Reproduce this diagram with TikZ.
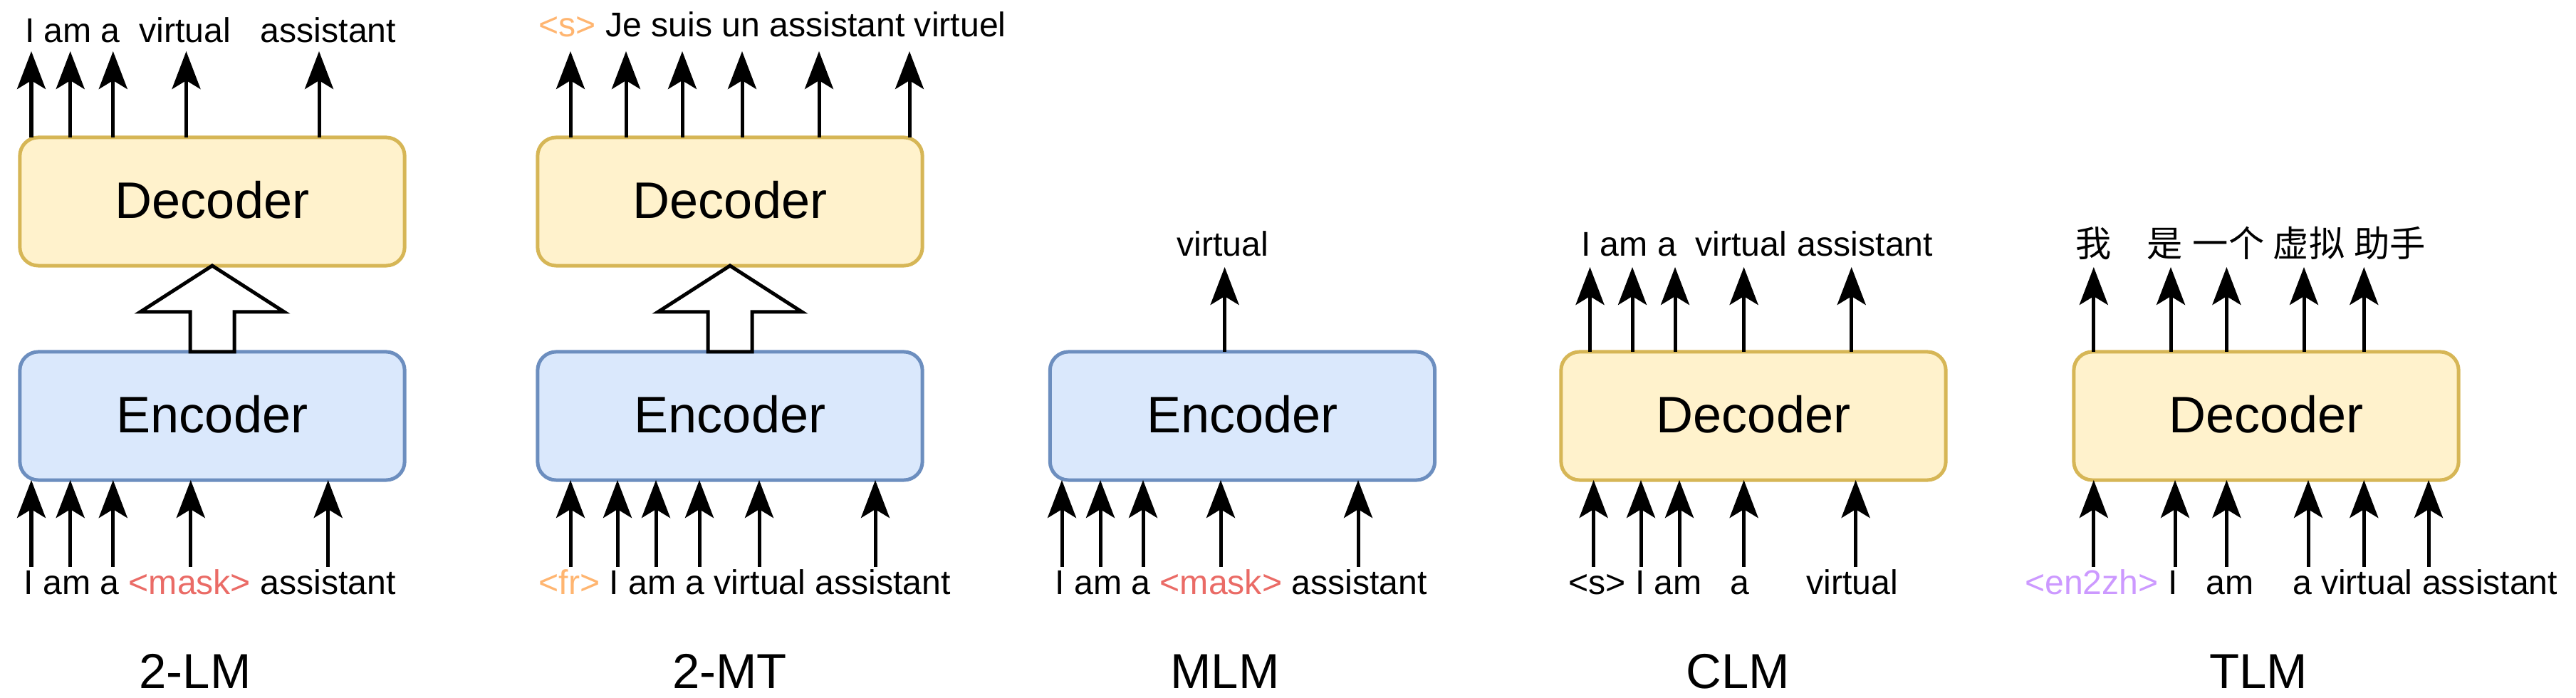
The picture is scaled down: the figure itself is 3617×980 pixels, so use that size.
\documentclass[tikz,border=0pt]{standalone}
\usepackage{fontspec}
\setmainfont{Liberation Sans}
\newfontfamily\cjk{Noto Sans CJK SC}
\usetikzlibrary{arrows.meta,calc}
\definecolor{decfill}{HTML}{FFF2CC}
\definecolor{decline}{HTML}{D6B656}
\definecolor{encfill}{HTML}{DAE8FC}
\definecolor{encline}{HTML}{6C8EBF}
\definecolor{maskred}{HTML}{EA6B66}
\definecolor{tagorange}{HTML}{FFB570}
\definecolor{tagpurple}{HTML}{CC99FF}
\begin{document}
\begin{tikzpicture}[x=0.01cm,y=-0.01cm,
  box/.style={rectangle, rounded corners=0.26cm, line width=0.05cm, minimum width=5.4cm, minimum height=1.8cm, inner sep=0pt, outer sep=0pt, text height=0.46cm, text depth=0cm, font=\fontsize{20.5}{24}\selectfont},
  decbox/.style={box, draw=decline, fill=decfill},
  encbox/.style={box, draw=encline, fill=encfill},
  arr/.style={line width=0.05cm, -{Stealth[length=0.53cm, width=0.40cm, inset=0.12cm]}},
  hollow/.style={line width=0.05cm, draw=black, fill=white, line join=miter},
  tok/.style={font=\fontsize{13.7}{16}\selectfont, inner sep=0pt, outer sep=0pt, anchor=base},
  tokw/.style={tok, anchor=base west},
  cjktok/.style={tok, font=\fontsize{14.3}{17}\cjk},
  lab/.style={font=\fontsize{19.6}{23}\selectfont, inner sep=0pt, anchor=base}]
\useasboundingbox (0,0) rectangle (3617,980);

% ---------------- Panel 1: 2-LM ----------------
\node[decbox] (dec1) at (298,283) {Decoder};
\node[encbox] (enc1) at (298,584) {Encoder};
\draw[hollow] (enc1.north) ++(-31,0) -- ++(0,-56) -- ++(-70,0) -- ($(dec1.south)$) -- ($(enc1.north)+(101,-56)$) -- ++(-70,0) -- ($(enc1.north)+(31,0)$) -- cycle;
\foreach \x [count=\i] in {44,98.7,158.8,261.5,448} {
  \coordinate (p1t\i) at (\x,72);
  \draw[arr] (dec1.north -| p1t\i) -- (p1t\i);
}
\foreach \x [count=\i] in {44,98.7,158.8,267.8,460.7} {
  \coordinate (p1b\i) at (\x,796);
  \draw[arr] (p1b\i) -- (p1b\i |- enc1.south);
}
\node[tok] (w1a) at (42,60) {I};
\node[tok] (w1b) at (95,60) {am};
\node[tok] (w1c) at (155,60) {a};
\node[tok] (w1d) at (259.5,60) {virtual};
\node[tok] (w1e) at (461,60) {assistant};
\node[tokw] (in1) at (33.5,835) {I am a \textcolor{maskred}{<mask>} assistant};
\node[lab] (l1) at (274,967) {2-LM};

% ---------------- Panel 2: 2-MT ----------------
\node[decbox] (dec2) at (1025,283) {Decoder};
\node[encbox] (enc2) at (1025,584) {Encoder};
\draw[hollow] (enc2.north) ++(-31,0) -- ++(0,-56) -- ++(-70,0) -- ($(dec2.south)$) -- ($(enc2.north)+(101,-56)$) -- ++(-70,0) -- ($(enc2.north)+(31,0)$) -- cycle;
\foreach \x [count=\i] in {801,879,958,1042,1150,1277} {
  \coordinate (p2t\i) at (\x,72);
  \draw[arr] (dec2.north -| p2t\i) -- (p2t\i);
}
\foreach \x [count=\i] in {801,867,921,982,1066,1229} {
  \coordinate (p2b\i) at (\x,796);
  \draw[arr] (p2b\i) -- (p2b\i |- enc2.south);
}
\node[tokw] (out2) at (756.5,52) {\textcolor{tagorange}{<s>} Je suis un assistant virtuel};
\node[tokw] (in2) at (756.5,835) {\textcolor{tagorange}{<fr>} I am a virtual assistant};
\node[lab] (l2) at (1024.5,967) {2-MT};

% ---------------- Panel 3: MLM ----------------
\node[encbox] (enc3) at (1744.5,584) {Encoder};
\coordinate (p3t1) at (1719.6,375);
\draw[arr] (enc3.north -| p3t1) -- (p3t1);
\foreach \x [count=\i] in {1491,1545,1605,1714,1907} {
  \coordinate (p3b\i) at (\x,796);
  \draw[arr] (p3b\i) -- (p3b\i |- enc3.south);
}
\node[tok] (w3a) at (1717,360) {virtual};
\node[tokw] (in3) at (1481.5,835) {I am a \textcolor{maskred}{<mask>} assistant};
\node[lab] (l3) at (1720,967) {MLM};

% ---------------- Panel 4: CLM ----------------
\node[decbox] (dec4) at (2462,584) {Decoder};
\foreach \x [count=\i] in {2232.5,2292,2352,2448.6,2599.7} {
  \coordinate (p4t\i) at (\x,375);
  \draw[arr] (dec4.north -| p4t\i) -- (p4t\i);
}
\foreach \x [count=\i] in {2237.6,2304,2358,2448.6,2605.6} {
  \coordinate (p4b\i) at (\x,796);
  \draw[arr] (p4b\i) -- (p4b\i |- dec4.south);
}
\node[tok] (w4a) at (2227,360) {I};
\node[tok] (w4b) at (2280,360) {am};
\node[tok] (w4c) at (2340.5,360) {a};
\node[tok] (w4d) at (2445,360) {virtual};
\node[tok] (w4e) at (2619,360) {assistant};
\node[tok] (v4a) at (2242.5,835) {<s>};
\node[tok] (v4b) at (2303,835) {I};
\node[tok] (v4c) at (2356,835) {am};
\node[tok] (v4d) at (2442.5,835) {a};
\node[tok] (v4e) at (2601,835) {virtual};
\node[lab] (l4) at (2440,967) {CLM};

% ---------------- Panel 5: TLM ----------------
\node[decbox] (dec5) at (3182,584) {Decoder};
\foreach \x [count=\i] in {2939.8,3048,3126.4,3235,3319.3} {
  \coordinate (p5t\i) at (\x,375);
  \draw[arr] (dec5.north -| p5t\i) -- (p5t\i);
}
\foreach \x [count=\i] in {2939.8,3054,3126.4,3241,3319.3,3410} {
  \coordinate (p5b\i) at (\x,796);
  \draw[arr] (p5b\i) -- (p5b\i |- dec5.south);
}
\node[cjktok] (c5a) at (2940,361) {我};
\node[cjktok] (c5b) at (3040,361) {是};
\node[cjktok] (c5c) at (3129,361) {一个};
\node[cjktok] (c5d) at (3242,361) {虚拟};
\node[cjktok] (c5e) at (3355.5,361) {助手};
\node[tok] (v5a) at (2937,835) {\textcolor{tagpurple}{<en2zh>}};
\node[tok] (v5b) at (3051,835) {I};
\node[tok] (v5c) at (3131,835) {am};
\node[tokw] (v5d) at (3219,835) {a virtual assistant};
\node[lab] (l5) at (3171,967) {TLM};
\end{tikzpicture}
\end{document}
